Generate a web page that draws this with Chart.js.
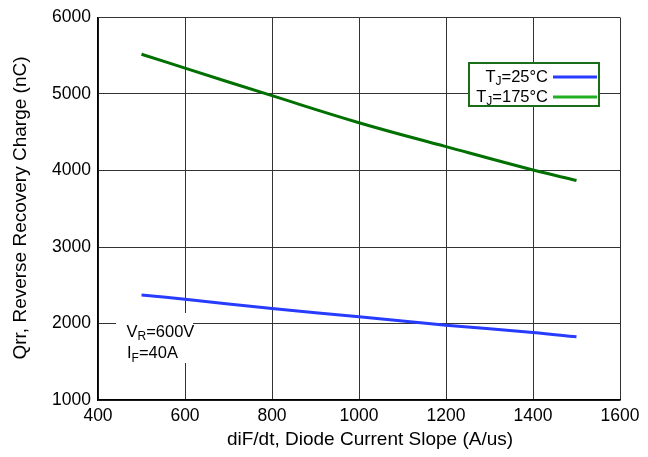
<!DOCTYPE html>
<html>
<head>
<meta charset="utf-8">
<script src="https://cdn.jsdelivr.net/npm/chart.js@4/dist/chart.umd.min.js"></script>
<style>
  html, body { margin: 0; padding: 0; background: #fff; }
  #wrap { width: 648px; height: 457px; position: relative; }
</style>
</head>
<body>
<div id="wrap"><canvas id="c" width="648" height="457"></canvas></div>
<script>
// diF/dt (A/us)
const slopeValues = [500, 600, 800, 1000, 1200, 1400, 1500];
// Qrr (nC) at TJ = 25 °C
const qrr25 = [2374, 2317, 2196, 2087, 1978, 1883, 1826];
// Qrr (nC) at TJ = 175 °C
const qrr175 = [5520, 5338, 4978, 4625, 4312, 4006, 3870];

const xTicks = [400, 600, 800, 1000, 1200, 1400, 1600];
const yTicks = [1000, 2000, 3000, 4000, 5000, 6000];

const FONT = '"Liberation Sans", Arial, Helvetica, sans-serif';
const BLUE = 'rgb(40,60,255)';
const GREEN_DARK = 'rgb(0,112,0)';
const GREEN_LIGHT = 'rgb(34,176,34)';

const pts = (ys) => slopeValues.map((x, i) => ({ x, y: ys[i] }));

// Text with a subscript part: main, sub, rest
function drawSubText(ctx, x, y, main, sub, rest, size, align) {
  const big = size + 'px ' + FONT;
  const small = Math.round(size * 0.72) + 'px ' + FONT;
  ctx.font = big; const w1 = ctx.measureText(main).width;
  const w3 = ctx.measureText(rest).width;
  ctx.font = small; const w2 = ctx.measureText(sub).width;
  const total = w1 + w2 + w3;
  let sx = align === 'right' ? x - total : x;
  ctx.textAlign = 'left';
  ctx.textBaseline = 'alphabetic';
  ctx.fillStyle = '#000';
  ctx.font = big; ctx.fillText(main, sx, y);
  ctx.font = small; ctx.fillText(sub, sx + w1, y + 3.5);
  ctx.font = big; ctx.fillText(rest, sx + w1 + w2, y);
}

const decorations = {
  id: 'decorations',
  beforeDatasetsDraw(chart) {
    const ctx = chart.ctx;
    ctx.save();
    // condition note with a white backing
    ctx.fillStyle = '#fff';
    ctx.fillRect(116, 313, 77, 50);
    drawSubText(ctx, 126.5, 336.7, 'V', 'R', '=600V', 16.5, 'left');
    drawSubText(ctx, 127, 358, 'I', 'F', '=40A', 16.5, 'left');
    ctx.restore();
  },
  afterDraw(chart) {
    const ctx = chart.ctx;
    ctx.save();
    // legend box
    ctx.fillStyle = '#fff';
    ctx.fillRect(469, 63, 130, 43);
    ctx.strokeStyle = '#1a6e1a';
    ctx.lineWidth = 2;
    ctx.strokeRect(469, 63, 130, 43);
    drawSubText(ctx, 548, 81.5, 'T', 'J', '=25°C', 16.5, 'right');
    drawSubText(ctx, 548, 101.5, 'T', 'J', '=175°C', 16.5, 'right');
    ctx.lineWidth = 3;
    ctx.lineCap = 'butt';
    ctx.strokeStyle = BLUE;
    ctx.beginPath(); ctx.moveTo(553, 77); ctx.lineTo(597, 77); ctx.stroke();
    ctx.strokeStyle = GREEN_LIGHT;
    ctx.beginPath(); ctx.moveTo(553, 97); ctx.lineTo(597, 97); ctx.stroke();

    // axis titles
    ctx.fillStyle = '#000';
    ctx.font = '19px ' + FONT;
    ctx.textAlign = 'center';
    ctx.textBaseline = 'middle';
    ctx.fillText('diF/dt, Diode Current Slope (A/us)', 370, 440);
    ctx.translate(21, 208);
    ctx.rotate(-Math.PI / 2);
    ctx.fillText('Qrr, Reverse Recovery Charge (nC)', 0, 0);
    ctx.restore();
  }
};

new Chart(document.getElementById('c'), {
  type: 'line',
  data: {
    datasets: [
      { label: 'TJ=25°C', data: pts(qrr25), borderColor: BLUE, borderWidth: 3,
        pointRadius: 0, tension: 0.4, fill: false },
      { label: 'TJ=175°C', data: pts(qrr175), borderColor: GREEN_DARK, borderWidth: 3,
        pointRadius: 0, tension: 0.4, fill: false }
    ]
  },
  options: {
    responsive: false,
    animation: false,
    devicePixelRatio: 1,
    layout: { padding: { top: 16, right: 28, left: 0, bottom: 0 } },
    plugins: { legend: { display: false }, tooltip: { enabled: false } },
    scales: {
      x: {
        type: 'linear', min: 400, max: 1600,
        afterBuildTicks: (s) => { s.ticks = xTicks.map(v => ({ value: v })); },
        afterFit: (s) => { s.height = 57; },
        ticks: { color: '#000', font: { family: FONT, size: 17.5 }, padding: 6,
                 callback: (v) => String(v) },
        grid: { color: '#333', lineWidth: 1, drawTicks: false },
        border: { color: '#000', width: 1.5 }
      },
      y: {
        min: 1000, max: 6000,
        afterBuildTicks: (s) => { s.ticks = yTicks.map(v => ({ value: v })); },
        afterFit: (s) => { s.width = 98; },
        ticks: { color: '#000', font: { family: FONT, size: 17.5 }, padding: 7,
                 callback: (v) => String(v) },
        grid: { color: '#333', lineWidth: 1, drawTicks: false },
        border: { color: '#000', width: 1.5 }
      }
    }
  },
  plugins: [decorations]
});
</script>
</body>
</html>
